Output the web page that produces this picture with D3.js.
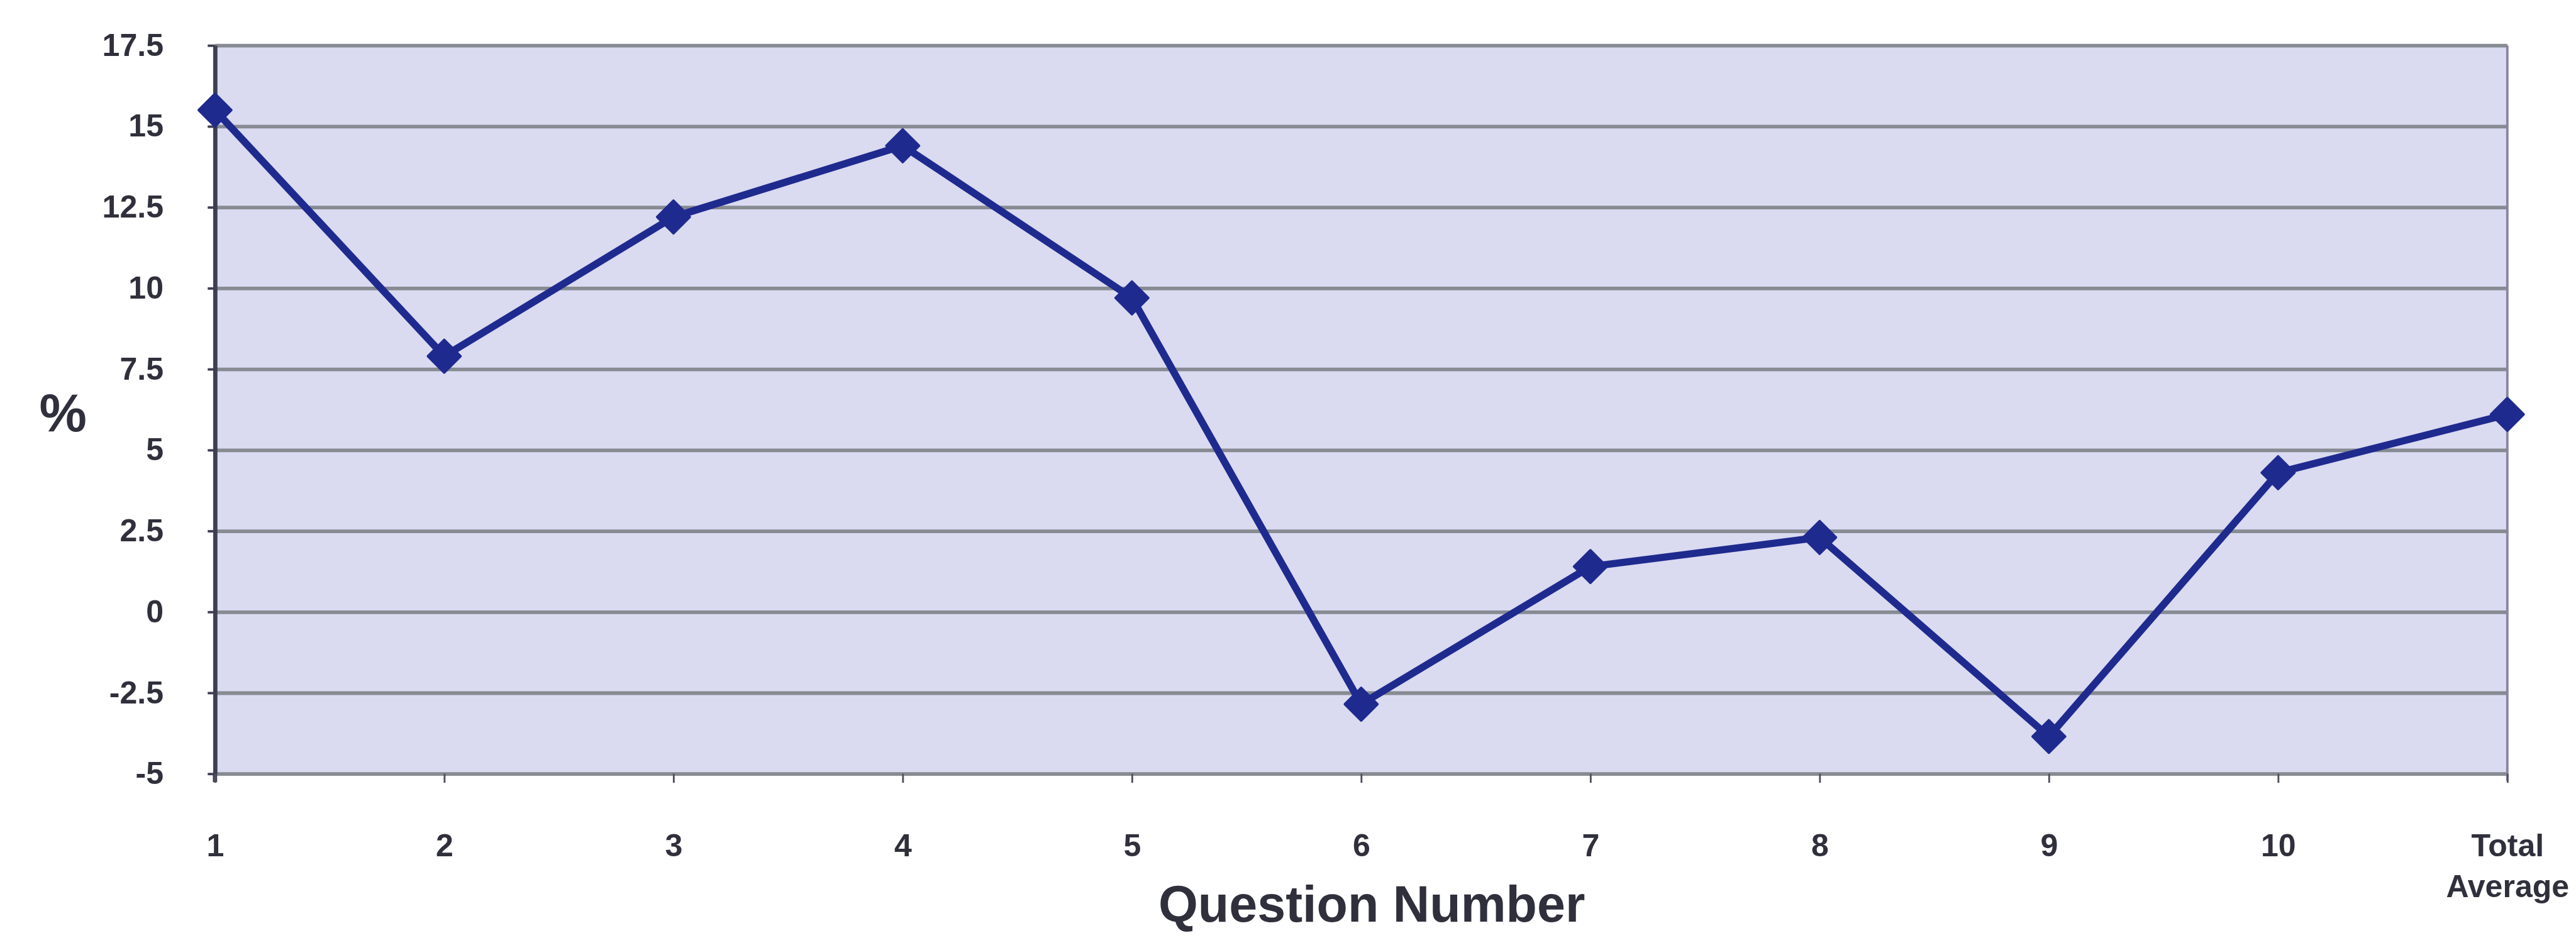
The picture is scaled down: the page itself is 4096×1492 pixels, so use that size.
<!DOCTYPE html>
<html>
<head>
<meta charset="utf-8">
<script src="https://cdn.jsdelivr.net/npm/d3@7"></script>
<style>
  html, body { margin: 0; padding: 0; background: #ffffff; }
  svg { display: block; }
  text { font-family: "Liberation Sans", Arial, Helvetica, sans-serif; font-weight: bold; fill: #30303c; }
</style>
</head>
<body>
<svg id="chart" width="4096" height="1492"></svg>
<script>
// Percentage change per question, plus the overall average
const categories = ["1", "2", "3", "4", "5", "6", "7", "8", "9", "10", "Total Average"];
const values = [15.5, 7.9, 12.2, 14.4, 9.7, -2.85, 1.4, 2.3, -3.85, 4.3, 6.1];
const yTicks = [-5, -2.5, 0, 2.5, 5, 7.5, 10, 12.5, 15, 17.5];
const yLabel = "%";
const xLabel = "Question Number";

// Layout is specified on a 4252-wide design grid and scaled to the window
const S = 0.963;
const plot = { left: 355 * S, right: 4140 * S, top: 75 * S, bottom: 1278 * S };

const svg = d3.select("#chart");

const x = d3.scalePoint().domain(categories).range([plot.left, plot.right]).padding(0);
const y = d3.scaleLinear().domain([-5, 17.5]).range([plot.bottom, plot.top]);

// Plot area background
svg.append("rect")
  .attr("x", plot.left).attr("y", plot.top)
  .attr("width", plot.right - plot.left).attr("height", plot.bottom - plot.top)
  .attr("fill", "#dadaf1");

// Horizontal gridlines
const grid = svg.append("g")
  .attr("transform", `translate(${plot.left},0)`)
  .call(d3.axisLeft(y).tickValues(yTicks).tickSize(-(plot.right - plot.left)).tickFormat(""));
grid.select(".domain").remove();
grid.selectAll(".tick line").attr("stroke", "#878b92").attr("stroke-width", 6 * S);

// Right border of the plot area
svg.append("line")
  .attr("x1", plot.right).attr("x2", plot.right)
  .attr("y1", plot.top).attr("y2", plot.bottom + 12 * S)
  .attr("stroke", "#8a84a0").attr("stroke-width", 4 * S);

// Y axis with labels
const yAxis = svg.append("g")
  .attr("transform", `translate(${plot.left},0)`)
  .call(d3.axisLeft(y).tickValues(yTicks).tickSize(12 * S).tickSizeOuter(0)
        .tickPadding(73 * S).tickFormat(d => String(d)));
yAxis.select(".domain").attr("stroke", "#3e3e52").attr("stroke-width", 7 * S);
yAxis.selectAll(".tick line").attr("stroke", "#3e3e52").attr("stroke-width", 4 * S);
yAxis.selectAll(".tick text").style("font-size", (52 * S) + "px").attr("fill", "#30303c");

// Extend the left axis slightly below the baseline
svg.append("line")
  .attr("x1", plot.left).attr("x2", plot.left)
  .attr("y1", plot.bottom).attr("y2", plot.bottom + 14 * S)
  .attr("stroke", "#3e3e52").attr("stroke-width", 7 * S);

// X axis with category labels
const xAxis = svg.append("g")
  .attr("transform", `translate(0,${plot.bottom})`)
  .call(d3.axisBottom(x).tickSize(15 * S).tickSizeOuter(0).tickPadding(84 * S));
xAxis.select(".domain").remove();
xAxis.selectAll(".tick line").attr("stroke", "#505060").attr("stroke-width", 3 * S);
xAxis.selectAll(".tick text")
  .style("font-size", (52 * S) + "px")
  .attr("fill", "#30303c")
  .each(function(d) {
    const parts = d.split(" ");
    if (parts.length > 1) {
      const t = d3.select(this);
      t.text(null);
      parts.forEach((p, i) => {
        t.append("tspan").attr("x", 0).attr("dy", i === 0 ? "0.71em" : (68 * S) + "px").text(p);
      });
      t.attr("dy", null);
    }
  });

// Data line
const series = categories.map((c, i) => ({ cat: c, val: values[i] }));
svg.append("path")
  .datum(series)
  .attr("fill", "none")
  .attr("stroke", "#1f2a8f")
  .attr("stroke-width", 12 * S)
  .attr("stroke-linejoin", "round")
  .attr("d", d3.line().x(d => x(d.cat)).y(d => y(d.val)));

// Diamond markers
const r = 27 * S;
svg.append("g").selectAll("path")
  .data(series)
  .join("path")
  .attr("transform", d => `translate(${x(d.cat)},${y(d.val)})`)
  .attr("d", `M0,${-r}L${r},0L0,${r}L${-r},0Z`)
  .attr("fill", "#1f2a8f")
  .attr("stroke", "#1f2a8f")
  .attr("stroke-width", 4 * S)
  .attr("stroke-linejoin", "round");

// Axis titles
svg.append("text")
  .attr("x", 104 * S).attr("y", 712 * S)
  .attr("text-anchor", "middle")
  .style("font-size", (88 * S) + "px")
  .text(yLabel);

svg.append("text")
  .attr("x", 2265 * S).attr("y", 1522 * S)
  .attr("text-anchor", "middle")
  .style("font-size", (84 * S) + "px")
  .text(xLabel);
</script>
</body>
</html>
